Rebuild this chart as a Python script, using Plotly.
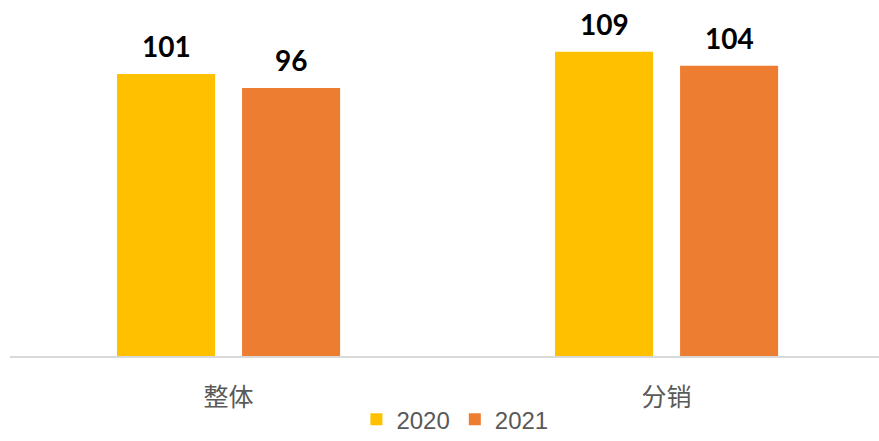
import plotly.graph_objects as go

categories = ["整体", "分销"]
series_names = ["2020", "2021"]
values_2020 = [101, 109]
values_2021 = [96, 104]
colors = ["#FFC000", "#ED7D31"]

BARGAP = 0.429
BARGROUPGAP = 0.216

fig = go.Figure()
for name, vals, col in zip(series_names, [values_2020, values_2021], colors):
    fig.add_trace(go.Bar(name=name, x=categories, y=vals, marker=dict(color=col, line=dict(width=0))))

# data labels above each bar
slot = (1 - BARGAP) / 2
for si, vals in enumerate([values_2020, values_2021]):
    off = (si - 0.5) * slot
    for ci, v in enumerate(vals):
        fig.add_annotation(x=ci + off, y=v, xref="x", yref="y", text=f"<b>{v}</b>",
                           showarrow=False, yanchor="middle", yshift=28,
                           font=dict(family="Lato, Open Sans, sans-serif", size=28, color="#000000"))

fig.update_layout(
    width=879, height=441,
    margin=dict(l=10, r=0, t=21, b=85, autoexpand=False),
    paper_bgcolor="white", plot_bgcolor="white",
    barmode="group", bargap=BARGAP, bargroupgap=BARGROUPGAP,
    showlegend=True,
    legend=dict(orientation="h", x=0.512, xanchor="center", y=-0.19, yanchor="middle",
                font=dict(family="Liberation Sans Narrow, Arial Narrow, Liberation Sans, sans-serif", size=24, color="#595959"),
                itemwidth=30, traceorder="normal"),
    xaxis=dict(showline=True, linecolor="#d9d9d9", linewidth=2, ticks="", showgrid=False,
               range=[-0.499, 1.485],
               tickfont=dict(family="Noto Sans CJK SC", size=25, color="#595959"),
               ticklabelstandoff=18),
    yaxis=dict(range=[0, 120], visible=False, showgrid=False, zeroline=False),
)

fig.write_html("out.html", config={"displayModeBar": False},
               post_script="document.body.style.margin='0';document.body.style.overflow='hidden';")
